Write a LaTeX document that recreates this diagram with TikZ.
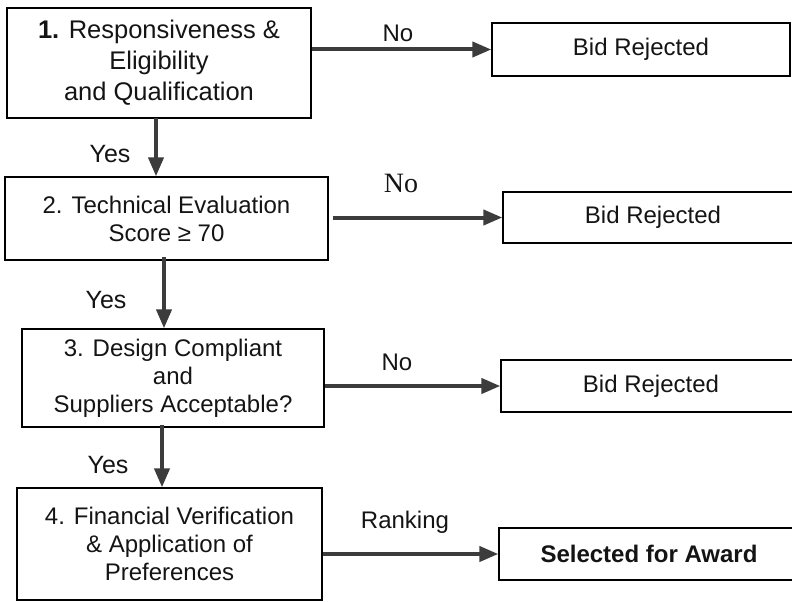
\documentclass[tikz,border=0pt]{standalone}
\usepackage{fontspec}
\setmainfont{Liberation Sans}
\newfontfamily\serifno{Liberation Serif}
\usetikzlibrary{arrows.meta}
\definecolor{arrowgray}{HTML}{3C3C3C}
\definecolor{inkblack}{HTML}{141414}
\begin{document}
\begin{tikzpicture}[x=1pt,y=-1pt,
  box/.style={draw=black,line width=1.3pt,inner sep=0pt,align=center,
    text=inkblack,font=\fontsize{24}{28}\selectfont},
  flowarrow/.style={draw=arrowgray,line width=4pt,
    -{Triangle[length=19pt,width=15pt]}},
  lbl/.style={inner sep=0pt,text=inkblack,font=\fontsize{24}{28}\selectfont}]
\useasboundingbox (0,0) rectangle (792,602);
\clip (0,0) rectangle (792,602);
% left column
\node[box,minimum width=304pt,minimum height=110pt,font=\fontsize{25.5}{31}\selectfont] (b1) at (159,63)
  {\textbf{1.} Responsiveness \&\\Eligibility\\and Qualification};
\node[box,minimum width=323pt,minimum height=83pt] (b2) at (166.5,218.5)
  {2. Technical Evaluation\\Score ≥ 70};
\node[box,minimum width=302pt,minimum height=98pt] (b3) at (173,378)
  {3. Design Compliant\\and\\Suppliers Acceptable?};
\node[box,minimum width=305pt,minimum height=112pt] (b4) at (169.5,544)
  {4. Financial Verification\\\& Application of\\Preferences};
% right column
\node[box,minimum width=298pt,minimum height=53pt] (r1) at (641,49.5) {Bid Rejected};
\node[box,minimum width=300pt,minimum height=51pt] (r2) at (653,217.5) {Bid Rejected};
\node[box,minimum width=300pt,minimum height=52pt] (r3) at (651,386) {Bid Rejected};
\node[box,minimum width=300pt,minimum height=52pt] (r4) at (649,554) {\textbf{Selected for Award}};
% vertical arrows
\draw[flowarrow] ([xshift=-3pt,yshift=1pt]b1.south) -- ([xshift=-3pt]b1.south |- b2.north);
\draw[flowarrow] ([xshift=-2.5pt,yshift=4pt]b2.south) -- ([xshift=-2.5pt]b2.south |- b3.north);
\draw[flowarrow] ([xshift=-11pt,yshift=3pt]b3.south) -- ([xshift=-11pt]b3.south |- b4.north);
% horizontal arrows
\draw[flowarrow] (b1.east |- r1.west) -- (r1.west);
\draw[flowarrow] ([xshift=4pt]b2.east |- r2.west) -- (r2.west);
\draw[flowarrow] (b3.east |- r3.west) -- (r3.west);
\draw[flowarrow] (b4.east |- r4.west) -- (r4.west);
% labels
\node[lbl] (n1) at (398,33) {No};
\node[lbl,font=\serifno\fontsize{28}{32}\selectfont] (n2) at (401,183) {No};
\node[lbl] (n3) at (397,362) {No};
\node[lbl] (rk) at (405,522) {Ranking};
\node[lbl,font=\fontsize{25}{30}\selectfont] (y1) at (110,154) {Yes};
\node[lbl,font=\fontsize{25}{30}\selectfont] (y2) at (106,300) {Yes};
\node[lbl,font=\fontsize{25}{30}\selectfont] (y3) at (108,465) {Yes};
\end{tikzpicture}
\end{document}
